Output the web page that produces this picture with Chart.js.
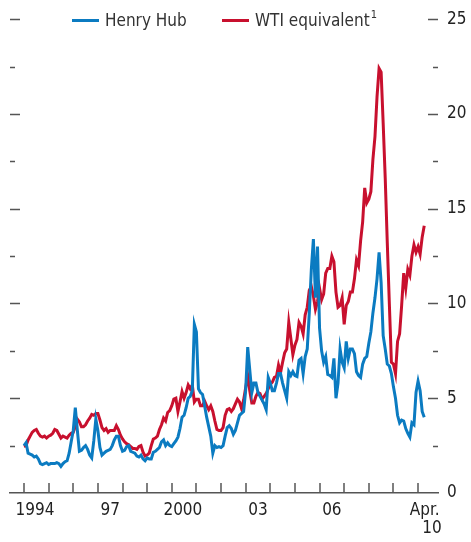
<!DOCTYPE html>
<html>
<head>
<meta charset="utf-8">
<script src="https://cdn.jsdelivr.net/npm/chart.js@4"></script>
<style>
  html, body { margin: 0; padding: 0; background: #fff; }
  .wrap { position: relative; width: 471px; height: 542px; }
  .legend { position: absolute; top: 10px; font: 17px "DejaVu Sans Condensed", sans-serif; line-height: 20px; color: #333; white-space: nowrap; }
  .legend i { display: inline-block; width: 27px; height: 3px; vertical-align: middle; margin-right: 6px; position: relative; top: -1px; }
  .legend sup { font-size: 11px; line-height: 11px; position: relative; top: -1px; vertical-align: top; margin-left: 1px; }
</style>
</head>
<body>
<div class="wrap">
  <canvas id="chart" width="471" height="542"></canvas>
  <div class="legend" style="left:72px"><i style="background:#0b7bc1"></i>Henry Hub</div>
  <div class="legend" style="left:222px"><i style="background:#c8102e"></i>WTI equivalent<sup>1</sup></div>
</div>
<script>
const startYear = 1994;

// monthly, Jan 1994 - Apr 2010
const henryHub = [
  2.5, 2.65, 2.1, 2.05, 2.0, 1.9, 1.95, 1.8, 1.55, 1.5, 1.55, 1.6,
  1.5, 1.55, 1.55, 1.55, 1.6, 1.55, 1.4, 1.55, 1.65, 1.7, 2.1, 2.7,
  3.3, 4.5, 3.3, 2.2, 2.25, 2.4, 2.5, 2.3, 2.0, 1.85, 2.75, 3.9,
  3.3, 2.4, 2.0, 2.1, 2.2, 2.25, 2.3, 2.5, 2.8, 3.0, 3.0, 2.5,
  2.2, 2.25, 2.45, 2.5, 2.2, 2.15, 2.1, 1.95, 1.9, 2.0, 1.8, 1.7,
  1.85, 1.8, 1.8, 2.15, 2.2, 2.3, 2.4, 2.7, 2.8, 2.5, 2.65, 2.5,
  2.45, 2.6, 2.75, 2.95, 3.4, 4.0, 4.1, 4.5, 5.0, 5.1, 5.4, 8.9,
  8.5, 5.5, 5.3, 5.2, 4.6, 4.0, 3.5, 3.0, 2.1, 2.5, 2.4, 2.45,
  2.4, 2.5, 3.0, 3.45, 3.55, 3.4, 3.1, 3.3, 3.7, 4.1, 4.2, 4.3,
  5.4, 7.7, 6.5, 5.3, 5.8, 5.8, 5.3, 5.1, 4.9, 4.7, 4.4, 6.1,
  5.8, 5.4, 5.4, 5.8, 6.3, 6.3, 5.8, 5.4, 5.0, 6.4, 6.2, 6.4,
  6.2, 6.15, 7.0, 7.1, 6.3, 7.2, 7.6, 9.5, 11.8, 13.4, 10.3, 13.0,
  8.7, 7.5, 6.9, 7.2, 6.25, 6.2, 6.1, 7.1, 5.0, 5.8, 7.6, 6.9,
  6.6, 8.0, 7.1, 7.6, 7.6, 7.35, 6.4, 6.2, 6.1, 6.8, 7.1, 7.2,
  7.9, 8.5, 9.5, 10.3, 11.3, 12.7, 11.1, 8.3, 7.6, 6.8, 6.7, 6.3,
  5.6, 5.0, 4.1, 3.7, 3.85, 3.8, 3.4, 3.15, 2.95, 3.7, 3.6, 5.3,
  5.9, 5.4, 4.3, 4.0
];

const wtiEquivalent = [
  2.45, 2.5, 2.8, 3.0, 3.2, 3.3, 3.35, 3.15, 3.0, 2.95, 3.0, 2.9,
  3.0, 3.05, 3.15, 3.35, 3.3, 3.1, 2.9, 3.0, 2.95, 2.9, 3.05, 3.15,
  3.2, 3.5, 3.9, 3.75, 3.5, 3.5, 3.6, 3.8, 3.95, 4.15, 4.1, 4.2,
  4.2, 3.85, 3.45, 3.3, 3.4, 3.2, 3.3, 3.3, 3.3, 3.55, 3.35, 3.05,
  2.85, 2.7, 2.6, 2.55, 2.45, 2.35, 2.35, 2.3, 2.45, 2.5, 2.15, 1.95,
  2.0, 2.1, 2.5, 2.85, 2.9, 3.0, 3.35, 3.6, 3.95, 3.8, 4.25, 4.35,
  4.6, 4.95, 5.0, 4.3, 4.8, 5.35, 5.0, 5.3, 5.7, 5.5, 5.7, 4.8,
  4.95, 4.95, 4.6, 4.6, 4.85, 4.6, 4.4, 4.6, 4.3, 3.8, 3.35, 3.3,
  3.3, 3.45, 4.1, 4.4, 4.45, 4.3, 4.45, 4.7, 4.95, 4.8, 4.45, 4.9,
  5.55, 6.2, 5.4, 4.75, 4.75, 5.1, 5.3, 5.25, 4.95, 5.1, 5.25, 5.5,
  5.75, 5.85, 6.1, 6.15, 6.75, 6.35, 6.9, 7.4, 7.6, 9.0, 8.15, 7.3,
  7.8, 8.1, 9.0, 8.8, 8.4, 9.4, 9.8, 10.7, 10.9, 10.4, 9.7, 10.1,
  10.8, 10.2, 10.5, 11.6, 11.85, 11.85, 12.5, 12.2, 10.6, 9.8, 9.9, 10.3,
  8.9, 9.9, 10.1, 10.6, 10.6, 11.3, 12.3, 12.0, 13.3, 14.3, 16.1, 15.3,
  15.5, 15.9, 17.6, 18.8, 20.9, 22.4, 22.2, 19.5, 16.6, 13.2, 10.0, 6.9,
  6.8, 6.3, 8.0, 8.4, 9.9, 11.6, 10.8, 11.8, 11.5, 12.5, 13.1, 12.7,
  13.0, 12.6, 13.5, 14.1
];

const yTickValues = [0, 2.5, 5, 7.5, 10, 12.5, 15, 17.5, 20, 22.5, 25];
const yTickLabels = ["0", "", "5", "", "10", "", "15", "", "20", "", "25"];
const yearTicks = [1994, 1995, 1996, 1997, 1998, 1999, 2000, 2001, 2002,
  2003, 2004, 2005, 2006, 2007, 2008, 2009, 2010];
const xLabelValues = [1994.45, 1997.5, 2000.45, 2003.5, 2006.5, 2010.27];
const xLabels = ["1994", "97", "2000", "03", "06", ["Apr.", "   10"]];

const font = '"DejaVu Sans Condensed", sans-serif';
const axisColor = "#555";

function toPoints(values) {
  return values.map((v, i) => ({ x: startYear + i / 12, y: v }));
}

const insideTicks = {
  id: "insideTicks",
  afterDraw(chart) {
    const { ctx, chartArea: area, scales } = chart;
    ctx.save();
    ctx.strokeStyle = axisColor;
    ctx.lineWidth = 1.5;
    ctx.beginPath();
    yTickValues.forEach((v) => {
      if (v === 0) return;
      const y = Math.round(scales.y.getPixelForValue(v)) + 0.5;
      const len = v % 5 === 0 ? 10 : 5;
      ctx.moveTo(area.left, y);
      ctx.lineTo(area.left + len, y);
      ctx.moveTo(area.right - len, y);
      ctx.lineTo(area.right, y);
    });
    yearTicks.forEach((yr) => {
      const x = Math.round(scales.x.getPixelForValue(yr));
      ctx.moveTo(x, area.bottom);
      ctx.lineTo(x, area.bottom - 10);
    });
    ctx.stroke();
    ctx.restore();
  },
};

new Chart(document.getElementById("chart"), {
  type: "line",
  data: {
    datasets: [
      {
        label: "Henry Hub",
        data: toPoints(henryHub),
        borderColor: "#0b7bc1",
        borderWidth: 3,
        pointRadius: 0,
        tension: 0,
      },
      {
        label: "WTI equivalent",
        data: toPoints(wtiEquivalent),
        borderColor: "#c8102e",
        borderWidth: 3,
        pointRadius: 0,
        tension: 0,
      },
    ],
  },
  options: {
    responsive: false,
    animation: false,
    layout: { padding: { top: 14, left: 10 } },
    plugins: { legend: { display: false }, tooltip: { enabled: false } },
    scales: {
      x: {
        type: "linear",
        min: 1993.432,
        max: 2010.809,
        grid: { display: false, drawTicks: false },
        border: { display: true, color: axisColor, width: 1.5 },
        afterBuildTicks: (scale) => {
          scale.ticks = xLabelValues.map((v) => ({ value: v }));
        },
        afterFit: (scale) => { scale.height = 49; },
        ticks: {
          autoSkip: false,
          maxRotation: 0,
          padding: 8,
          color: "#222",
          font: { family: font, size: 17, lineHeight: 1.1 },
          callback: (v, i) => xLabels[i],
        },
      },
      y: {
        position: "right",
        min: 0,
        max: 25,
        grid: { display: false, drawTicks: false },
        border: { display: false },
        afterBuildTicks: (scale) => {
          scale.ticks = yTickValues.map((v) => ({ value: v }));
        },
        afterFit: (scale) => { scale.width = 33; },
        ticks: {
          padding: 9,
          color: "#222",
          font: { family: font, size: 17 },
          callback: (v, i) => yTickLabels[i],
        },
      },
    },
  },
  plugins: [insideTicks],
});
</script>
</body>
</html>
